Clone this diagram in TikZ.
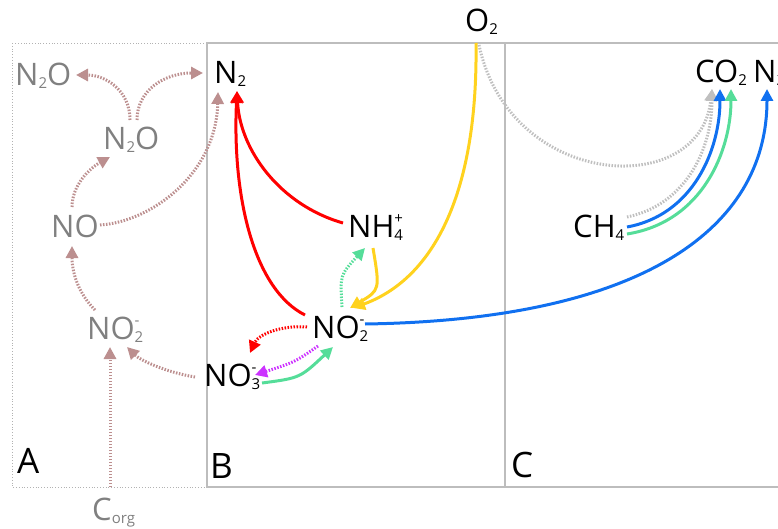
\documentclass[tikz,border=0pt]{standalone}
\usepackage{fontspec}
\setmainfont{Open Sans}
\usepackage{tikz}
\usetikzlibrary{positioning, arrows.meta}
\definecolor{rosy}{HTML}{BC8F8F}
\definecolor{mint}{HTML}{55DD99}
\definecolor{sun}{HTML}{FFD21E}
\definecolor{violet}{HTML}{CC33FF}
\definecolor{sky}{HTML}{1070F0}
\definecolor{frame}{HTML}{BDBDBD}
\newcommand{\lo}[1]{\raisebox{-3pt}{\fontsize{15}{15}\selectfont #1}}
\newcommand{\ion}[2]{\rlap{\raisebox{14pt}{\fontsize{15}{15}\selectfont #2}}\raisebox{-3pt}{\fontsize{15}{15}\selectfont #1}}

\begin{document}
\begin{tikzpicture}[x=1pt, y=-1pt,
  chem/.style={font=\fontsize{31}{34}\selectfont, inner sep=0pt, anchor=base west},
  faded/.style={chem, text=gray},
  panel/.style={font=\fontsize{35}{38}\selectfont, inner sep=0pt, anchor=base west},
  flow/.style={line width=3pt, -{Triangle[length=12pt, width=12pt]}},
  dotflow/.style={flow, dash pattern=on 1.5pt off 1.5pt}]
  \useasboundingbox (0,0) rectangle (778,529);
  % panels
  \draw[gray!60, dotted, thick] (12,43) rectangle (207,487);
  \draw[frame, line width=1.4pt] (207,43) rectangle (505,487);
  \draw[frame, line width=1.4pt] (505,43) -- (790,43) (505,43) -- (505,487) -- (790,487);
  \node[panel] (labA) at (17,473) {A};
  \node[panel] (labB) at (210,478) {B};
  \node[panel] (labC) at (511,477) {C};
  % species
  \node[faded] (n2oA) at (15,86) {N\lo{2}O};
  \node[faded] (n2om) at (103,150) {N\lo{2}O};
  \node[faded] (noA) at (51,237) {NO};
  \node[faded] (no2A) at (87,339) {NO\ion{2}{-}};
  \node[faded] (corg) at (92,520) {C\lo{org}};
  \node[chem] (n2B) at (214,84) {N\lo{2}};
  \node[chem] (nh4) at (348,237) {NH\ion{4}{+}};
  \node[chem] (no2B) at (312,338) {NO\ion{2}{-}};
  \node[chem] (no3B) at (204,386) {NO\ion{3}{-}};
  \node[chem] (o2) at (465,32) {O\lo{2}};
  \node[chem] (co2) at (695,83) {CO\lo{2}};
  \node[chem] (n2C) at (753,83) {N\lo{2}};
  \node[chem] (ch4) at (573,237) {CH\lo{4}};
  % panel A
  \draw[dotflow, rosy] ([shift={(18,-33)}]corg.base west) -- ([shift={(23,8)}]no2A.base west);
  \draw[dotflow, rosy] ([shift={(-9,-9)}]no3B.base west) .. controls (165,372) and (140,360) .. ([shift={(40,8)}]no2A.base west);
  \draw[dotflow, rosy] ([shift={(8,-29)}]no2A.base west) .. controls (80,295) and (72,275) .. ([shift={(21,9)}]noA.base west);
  \draw[dotflow, rosy] ([shift={(21,-30)}]noA.base west) .. controls (72,185) and (90,168) .. ([shift={(7,7)}]n2om.base west);
  \draw[dotflow, rosy] ([shift={(49,-12)}]noA.base west) .. controls (150,222) and (216,175) .. ([shift={(4,8)}]n2B.base west);
  \draw[dotflow, rosy] ([shift={(27,-30)}]n2om.base west) .. controls (130,90) and (105,75) .. ([shift={(61,-11)}]n2oA.base west);
  \draw[dotflow, rosy] ([shift={(34,-30)}]n2om.base west) .. controls (137,90) and (165,73) .. ([shift={(-11,-11)}]n2B.base west);
  % panel B
  \draw[flow, red] ([shift={(-5,-14)}]nh4.base west) .. controls (280,205) and (240,150) .. ([shift={(23,7)}]n2B.base west);
  \draw[flow, red] ([shift={(-7,-23)}]no2B.base west) .. controls (255,290) and (232,200) .. ([shift={(23,7)}]n2B.base west);
  \draw[dotflow, red] ([shift={(-5,-11)}]no2B.base west) .. controls (280,325) and (258,335) .. ([shift={(46,-33)}]no3B.base west);
  \draw[dotflow, violet] ([shift={(6,8)}]no2B.base west) .. controls (295,362) .. ([shift={(51,-11)}]no3B.base west);
  \draw[flow, mint] ([shift={(58,-3)}]no3B.base west) .. controls (300,378) .. ([shift={(21,9)}]no2B.base west);
  \draw[dotflow, mint] ([shift={(30,-31)}]no2B.base west) .. controls (340,275) .. ([shift={(17,11)}]nh4.base west);
  \draw[flow, sun] ([shift={(25,11)}]nh4.base west) .. controls (380,290) .. ([shift={(38,-30)}]no2B.base west);
  \draw[flow, sun] ([shift={(11,11)}]o2.base west) .. controls (478,200) and (430,280) .. ([shift={(41,-30)}]no2B.base west);
  % panel C
  \draw[dotflow, gray!50] ([shift={(14,13)}]o2.base west) .. controls (510,190) and (700,200) .. ([shift={(17,6)}]co2.base west);
  \draw[flow, sky] ([shift={(53,-14)}]no2B.base west) .. controls (640,320) and (767,230) .. ([shift={(14,6)}]n2C.base west);
  \draw[dotflow, gray!50] ([shift={(54,-20)}]ch4.base west) .. controls (685,205) and (712,150) .. ([shift={(17,6)}]co2.base west);
  \draw[flow, sky] ([shift={(54,-10)}]ch4.base west) .. controls (693,215) and (720,150) .. ([shift={(25,6)}]co2.base west);
  \draw[flow, mint] ([shift={(54,-3)}]ch4.base west) .. controls (703,222) and (731,150) .. ([shift={(36,6)}]co2.base west);
\end{tikzpicture}
\end{document}
